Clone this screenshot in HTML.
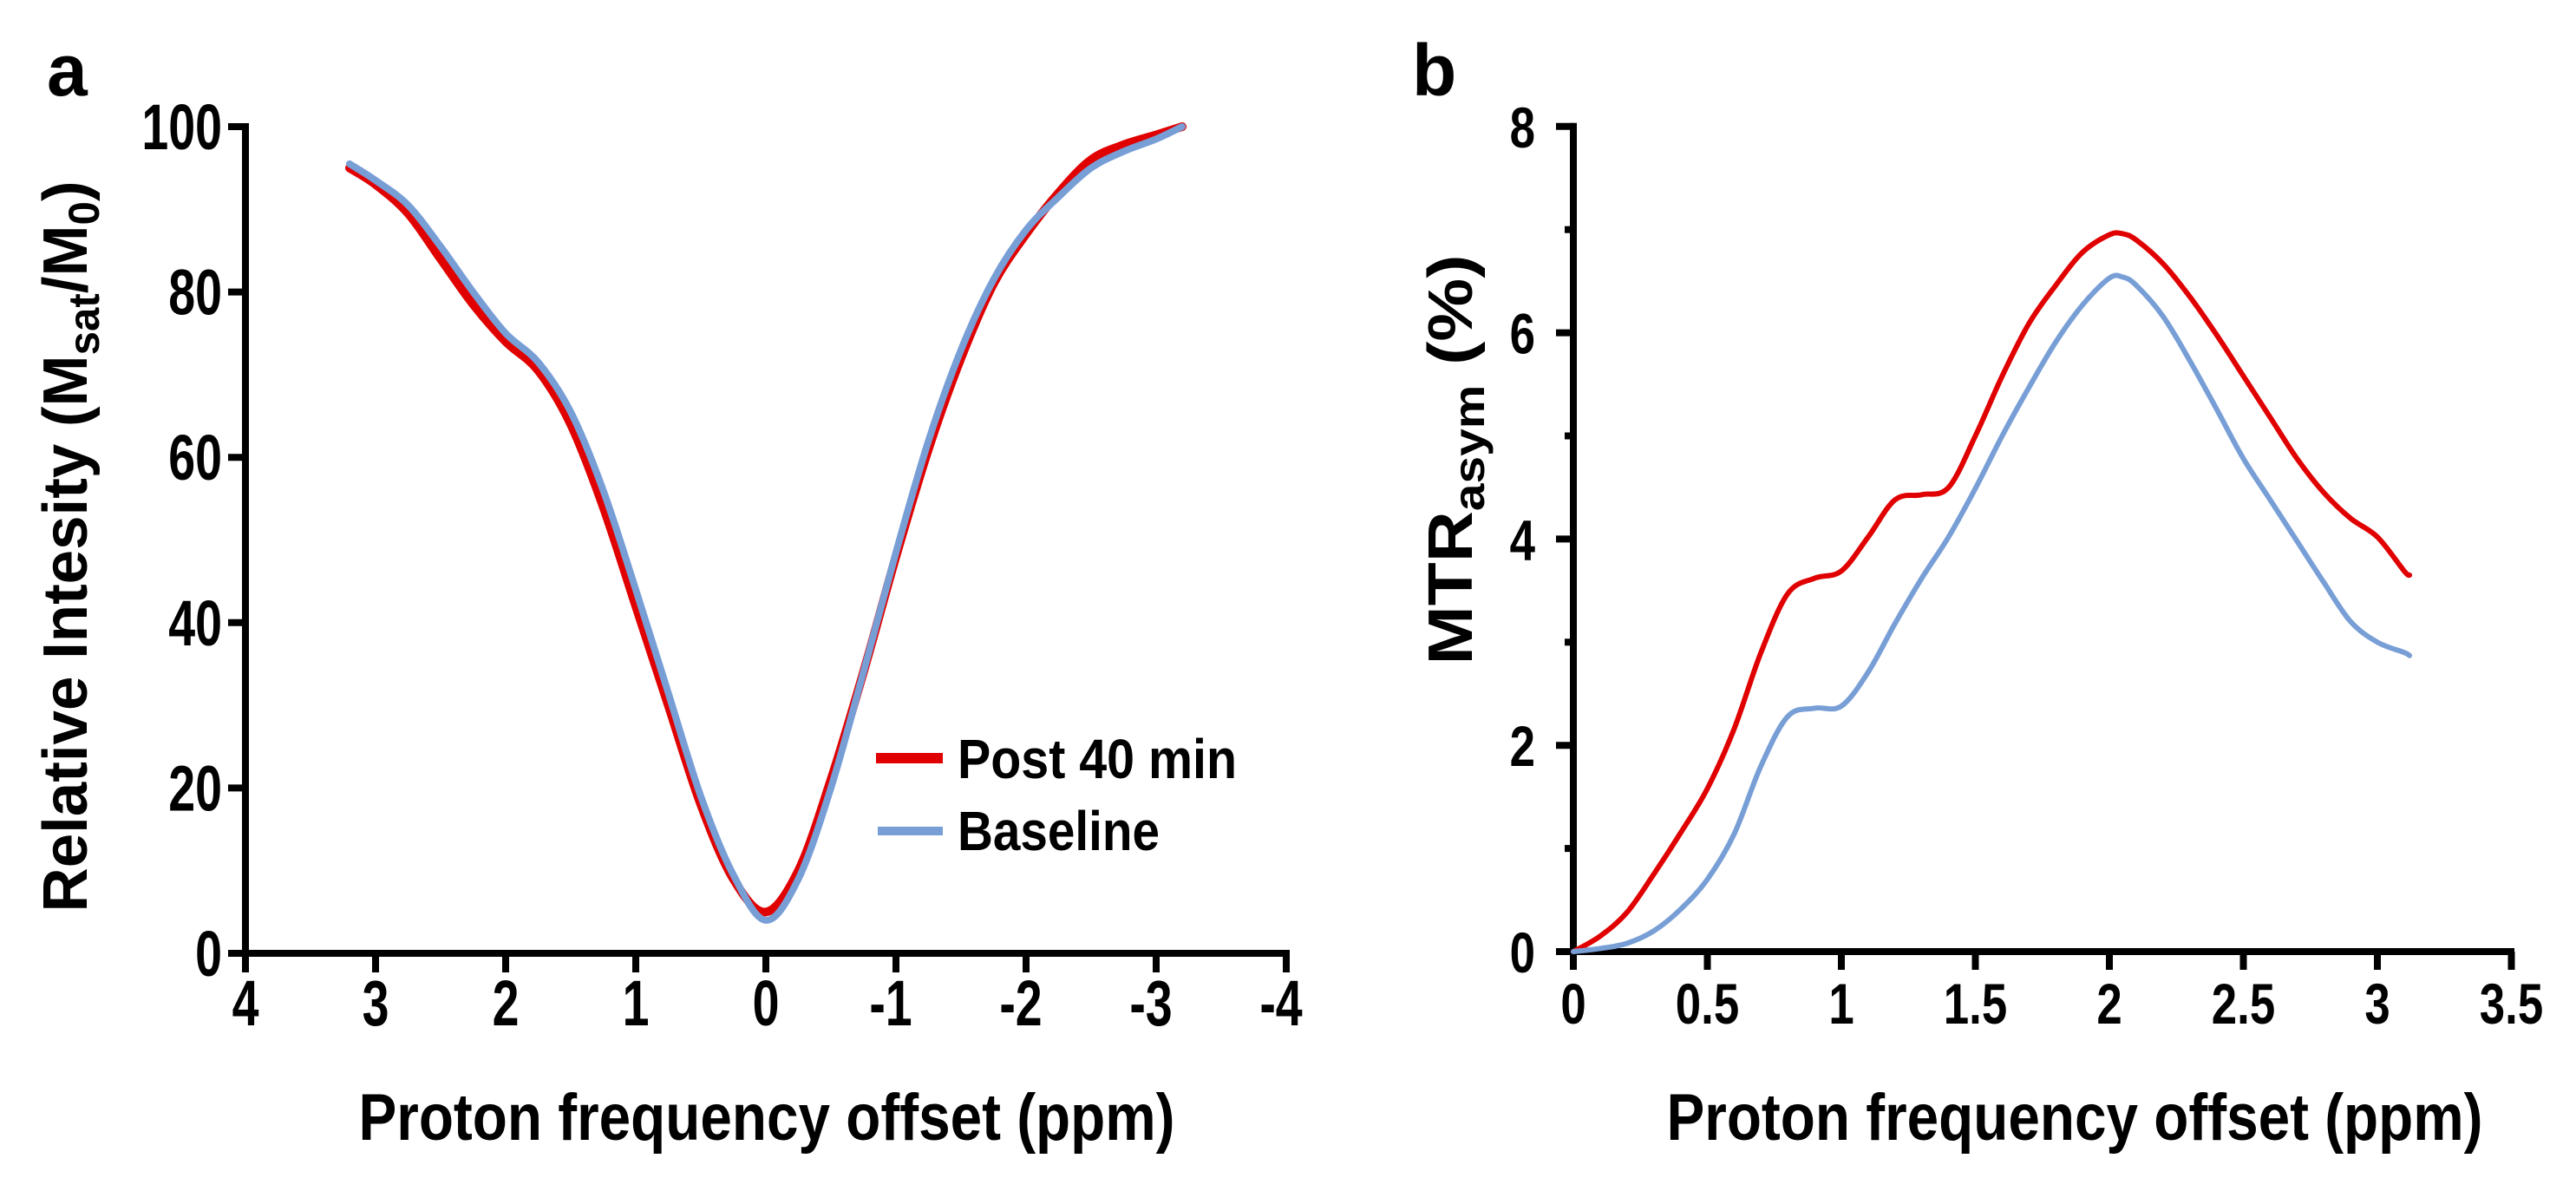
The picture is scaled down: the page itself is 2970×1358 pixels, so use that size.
<!DOCTYPE html>
<html><head><meta charset="utf-8">
<style>
html,body{margin:0;padding:0;background:#fff;}
svg{display:block;font-family:"Liberation Sans",Arial,sans-serif;font-weight:bold;}
</style></head>
<body>
<svg id="fig" width="2970" height="1358" viewBox="0 0 2970 1358" xmlns="http://www.w3.org/2000/svg">
<rect width="2970" height="1358" fill="#fff"/>
<g id="pa"></g>
<g id="pb"></g>
</svg>
<script>
// Panel a data
const aX = [3.2,3.0,2.75,2.5,2.25,2.0,1.75,1.5,1.25,1.0,0.75,0.5,0.25,0,-0.25,-0.5,-0.75,-1.0,-1.25,-1.5,-1.75,-2.0,-2.25,-2.5,-2.75,-3.0,-3.2];
const aPost = [95,93,89.5,84,78.5,74,70.5,64,54,42,30,18,9,5,10,21,34,48,61,72,81,87,92,96,97.8,99,100];
const aBase = [95.5,93.5,90.5,85.5,80,75,71.5,65.5,56,44,31.5,19,9.5,4,9,20,34,48.5,62,73,81.5,87.5,91.5,95,97,98.5,100];
const aXTicks = [4,3,2,1,0,-1,-2,-3,-4];
const aXTickLabels = ["4","3","2","1","0","-1","-2","-3","-4"];
const aYTicks = [0,20,40,60,80,100];
// Panel b data
const bX = [0,0.1,0.2,0.3,0.4,0.5,0.6,0.7,0.8,0.9,1.0,1.1,1.2,1.3,1.4,1.5,1.6,1.7,1.8,1.9,2.0,2.05,2.1,2.2,2.3,2.4,2.5,2.6,2.7,2.8,2.9,3.0,3.1,3.12];
const bPost = [0,0.15,0.38,0.75,1.15,1.58,2.16,2.9,3.47,3.62,3.69,4.02,4.38,4.43,4.5,5.0,5.58,6.09,6.46,6.78,6.95,6.96,6.9,6.67,6.35,5.98,5.58,5.18,4.78,4.45,4.2,4.02,3.69,3.65];
const bBase = [0,0.03,0.08,0.2,0.41,0.7,1.14,1.8,2.28,2.36,2.38,2.71,3.18,3.62,4.02,4.49,5.0,5.47,5.91,6.27,6.53,6.54,6.46,6.16,5.73,5.26,4.78,4.38,3.98,3.58,3.2,3.0,2.9,2.87];
const bXTicks = [0,0.5,1,1.5,2,2.5,3,3.5];
const bXTickLabels = ["0","0.5","1","1.5","2","2.5","3","3.5"];
const bYTicks = [0,2,4,6,8];
const bYMinor = [1,3,5,7];

const NS="http://www.w3.org/2000/svg";
function mk(parent,tag,attrs){const e=document.createElementNS(NS,tag);for(const k in attrs)e.setAttribute(k,attrs[k]);parent.appendChild(e);return e;}
function squeeze(el,f){const w=el.getComputedTextLength();el.setAttribute('textLength',w*f);el.setAttribute('lengthAdjust','spacingAndGlyphs');}
function smooth(pts){let d="M"+pts[0][0]+","+pts[0][1];for(let i=0;i<pts.length-1;i++){const p0=pts[Math.max(i-1,0)],p1=pts[i],p2=pts[i+1],p3=pts[Math.min(i+2,pts.length-1)];const c1x=p1[0]+(p2[0]-p0[0])/6,c1y=p1[1]+(p2[1]-p0[1])/6,c2x=p2[0]-(p3[0]-p1[0])/6,c2y=p2[1]-(p3[1]-p1[1])/6;d+=" C"+c1x+","+c1y+" "+c2x+","+c2y+" "+p2[0]+","+p2[1];}return d;}

// ---- Panel a
const pa=document.getElementById('pa');
const ax=v=>283+(4-v)*150, ay=v=>1099-v*9.53;
let t;
t=mk(pa,'text',{x:54,y:110,'font-size':84});t.textContent='a';


let l=mk(pa,'line',{x1:283,y1:ay(100)-4,x2:283,y2:1103,stroke:'#000','stroke-width':8});


l=mk(pa,'line',{x1:263,y1:1099,x2:1487,y2:1099,stroke:'#000','stroke-width':8});


aXTicks.forEach((v,i)=>{
 const tk=mk(pa,'line',{x1:ax(v),y1:1099,x2:ax(v),y2:1121,stroke:'#000','stroke-width':8});
 
 
 const tx=mk(pa,'text',{x:ax(v)+(aXTickLabels[i].startsWith('-')?-6:0),y:1182,'font-size':74,'text-anchor':'middle'});
 tx.textContent=aXTickLabels[i];
 
 
 squeeze(tx,0.75);
});
aYTicks.forEach(v=>{
 const tk=mk(pa,'line',{x1:263,y1:ay(v),x2:283,y2:ay(v),stroke:'#000','stroke-width':8});
 
 
 const tx=mk(pa,'text',{x:256,y:ay(v)+26,'font-size':74,'text-anchor':'end'});
 tx.textContent=String(v);
 
 
 squeeze(tx,0.75);
});
t=mk(pa,'text',{x:884,y:1314,'font-size':76,'text-anchor':'middle',textLength:941,lengthAdjust:'spacingAndGlyphs'});t.textContent='Proton frequency offset (ppm)';


t=mk(pa,'text',{transform:'translate(100,630) rotate(-90)','font-size':72,'text-anchor':'middle',textLength:843,lengthAdjust:'spacingAndGlyphs'});
t.innerHTML='Relative Intesity (M<tspan font-size="50" dy="14">sat</tspan><tspan dy="-14">/M</tspan><tspan font-size="50" dy="14">0</tspan><tspan dy="-14">)</tspan>';


let p=mk(pa,'path',{d:smooth(aX.map((x,i)=>[ax(x),ay(aPost[i])])),fill:'none',stroke:'#e00000','stroke-width':10,'stroke-linecap':'round'});


p=mk(pa,'path',{d:smooth(aX.map((x,i)=>[ax(x),ay(aBase[i])])),fill:'none',stroke:'#789ed6','stroke-width':8,'stroke-linecap':'round'});


l=mk(pa,'line',{x1:1010,y1:874,x2:1087,y2:874,stroke:'#e00000','stroke-width':12});


t=mk(pa,'text',{x:1104,y:897,'font-size':64,textLength:322,lengthAdjust:'spacingAndGlyphs'});t.textContent='Post 40 min';


l=mk(pa,'line',{x1:1012,y1:958,x2:1087,y2:958,stroke:'#789ed6','stroke-width':10});


t=mk(pa,'text',{x:1104,y:980,'font-size':64,textLength:233,lengthAdjust:'spacingAndGlyphs'});t.textContent='Baseline';



// ---- Panel b
const pb=document.getElementById('pb');
const bx=v=>1814+v*309, by=v=>1097-v*118.9;
t=mk(pb,'text',{x:1628,y:110,'font-size':84});t.textContent='b';


l=mk(pb,'line',{x1:1814,y1:by(8)-4,x2:1814,y2:1101,stroke:'#000','stroke-width':8});


l=mk(pb,'line',{x1:1794,y1:1097,x2:2899,y2:1097,stroke:'#000','stroke-width':8});


bXTicks.forEach((v,i)=>{
 const tk=mk(pb,'line',{x1:bx(v),y1:1097,x2:bx(v),y2:1118,stroke:'#000','stroke-width':8});
 
 
 const tx=mk(pb,'text',{x:bx(v),y:1180,'font-size':66,'text-anchor':'middle'});
 tx.textContent=bXTickLabels[i];
 
 
 squeeze(tx,0.8);
});
bYTicks.forEach(v=>{
 const tk=mk(pb,'line',{x1:1794,y1:by(v),x2:1814,y2:by(v),stroke:'#000','stroke-width':8});
 
 
 const tx=mk(pb,'text',{x:1770,y:by(v)+24,'font-size':66,'text-anchor':'end'});
 tx.textContent=String(v);
 
 
 squeeze(tx,0.8);
});
bYMinor.forEach(v=>{
 const tk=mk(pb,'line',{x1:1804,y1:by(v),x2:1814,y2:by(v),stroke:'#000','stroke-width':8});
 
 
});
t=mk(pb,'text',{x:2392,y:1314,'font-size':76,'text-anchor':'middle',textLength:941,lengthAdjust:'spacingAndGlyphs'});t.textContent='Proton frequency offset (ppm)';


t=mk(pb,'text',{transform:'translate(1697,530) rotate(-90)','font-size':72,'text-anchor':'middle',textLength:473,lengthAdjust:'spacingAndGlyphs'});
t.innerHTML='MTR<tspan font-size="50" dy="14">asym</tspan><tspan dy="-14"> (%)</tspan>';


p=mk(pb,'path',{d:smooth(bX.map((x,i)=>[bx(x),by(bPost[i])])),fill:'none',stroke:'#e00000','stroke-width':6,'stroke-linecap':'round'});


p=mk(pb,'path',{d:smooth(bX.map((x,i)=>[bx(x),by(bBase[i])])),fill:'none',stroke:'#789ed6','stroke-width':6,'stroke-linecap':'round'});


</script>
</body></html>
